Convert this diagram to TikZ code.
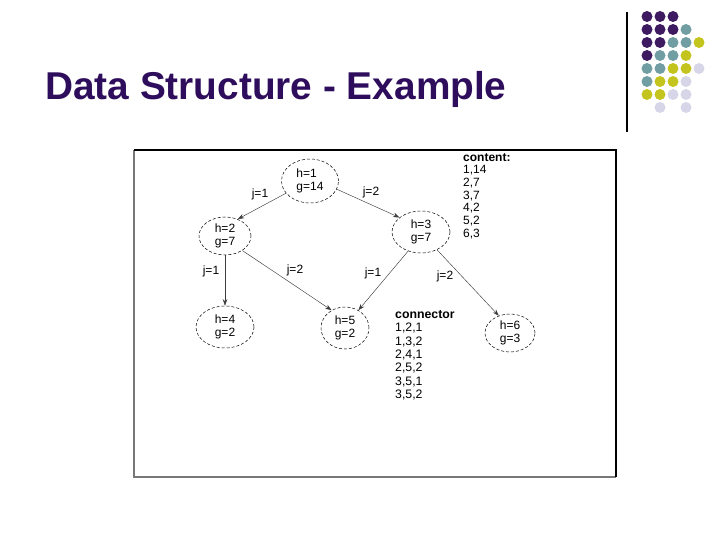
\documentclass[tikz,border=0pt]{standalone}
\usepackage{fontspec}
\setmainfont{Liberation Sans}
\usepackage{tikz}
\usetikzlibrary{arrows.meta,shapes.geometric}
\definecolor{titlepurple}{RGB}{46,14,92}
\definecolor{dotpurple}{RGB}{62,26,96}
\definecolor{dotteal}{RGB}{112,158,162}
\definecolor{dotyellow}{RGB}{196,196,30}
\definecolor{dotlilac}{RGB}{214,214,232}
\definecolor{edgegrey}{RGB}{60,60,60}
\definecolor{framegrey}{RGB}{120,120,120}
\tikzset{
  base/.style={font=\fontsize{12}{13.5}\selectfont, align=left, inner sep=0pt, text=black},
  state/.style={base, ellipse, draw=black, densely dashed, line width=0.5pt},
  lbl/.style={base, font=\fontsize{12}{13}\selectfont},
  list/.style={base, anchor=north west},
  arr/.style={-{Stealth[length=6.5pt,width=4.5pt]}, line width=0.45pt, draw=edgegrey},
  dot/.style={fill=#1},
}
\begin{document}
\begin{tikzpicture}[x=1pt,y=-1pt]
  \useasboundingbox (0,0) rectangle (720,540);
  % title and logo
  \node[anchor=base west, inner sep=0pt, text=titlepurple, font=\fontsize{38.8}{40}\selectfont\bfseries] (title) at (45,100) {Data Structure - Example};
  \draw[line width=1.2pt] (627,12) -- (627,132);
  \foreach \c/\r/\col in {0/0/dotpurple,1/0/dotpurple,2/0/dotpurple,
      0/1/dotpurple,1/1/dotpurple,2/1/dotpurple,3/1/dotteal,
      0/2/dotpurple,1/2/dotpurple,2/2/dotteal,3/2/dotteal,4/2/dotyellow,
      0/3/dotpurple,1/3/dotteal,2/3/dotteal,3/3/dotyellow,
      0/4/dotteal,1/4/dotteal,2/4/dotyellow,3/4/dotyellow,4/4/dotlilac,
      0/5/dotteal,1/5/dotyellow,2/5/dotyellow,3/5/dotlilac,
      0/6/dotyellow,1/6/dotyellow,2/6/dotlilac,3/6/dotlilac,
      1/7/dotlilac,3/7/dotlilac}
    \fill[dot=\col] ({647+13*\c},{16.5+13*\r}) circle (5.5pt);
  % frame
  \draw[framegrey, line width=1.2pt] (134,150) -- (134,477) -- (616,477);
  \draw[line width=1.2pt] (134,150) -- (616,150) -- (616,477);
  % states
  \node[state, minimum width=57pt, minimum height=44pt] (s1) at (310,181) {h=1\\g=14};
  \node[state, minimum width=52pt, minimum height=38pt] (s2) at (225,236) {h=2\\g=7};
  \node[state, minimum width=58pt, minimum height=42pt] (s3) at (421,232) {h=3\\g=7};
  \node[state, minimum width=58pt, minimum height=42pt] (s4) at (225,327) {h=4\\g=2};
  \node[state, minimum width=48pt, minimum height=42pt] (s5) at (345,328) {h=5\\g=2};
  \node[state, minimum width=50pt, minimum height=38pt] (s6) at (510,333) {h=6\\g=3};
  % connectors
  \draw[arr] (s1.207) -- (s2.53);
  \draw[arr] (s1.343) -- (s3.146);
  \draw[arr] (s2.south) -- (s4.north);
  \draw[arr] (s2.320) -- (s5.127);
  \draw[arr] (s3.236) -- (s5.53);
  \draw[arr] (s3.312) -- (s6.123);
  \node[lbl] (j12) at (260,194) {j=1};
  \node[lbl] (j13) at (371,192) {j=2};
  \node[lbl] (j24) at (211,271) {j=1};
  \node[lbl] (j25) at (295,270) {j=2};
  \node[lbl] (j35) at (373,273) {j=1};
  \node[lbl] (j36) at (445,276) {j=2};
  % tables
  \node[list, font=\fontsize{12}{12.7}\selectfont] (content) at (463,153) {\textbf{content:}\\1,14\\2,7\\3,7\\4,2\\5,2\\6,3};
  \node[list, font=\fontsize{12.3}{13.4}\selectfont] (conn) at (395,310) {\textbf{connector}\\1,2,1\\1,3,2\\2,4,1\\2,5,2\\3,5,1\\3,5,2};
\end{tikzpicture}
\end{document}
